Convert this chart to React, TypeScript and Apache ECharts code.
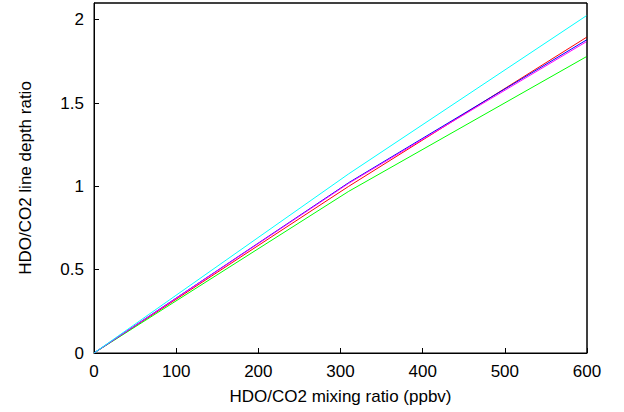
import React, { useEffect, useRef } from "react";
import * as echarts from "echarts";

const xValues = [0, 310, 600];
const redValues = [0, 1.0, 1.896];
const greenValues = [0, 0.97, 1.78];
const blueValues = [0, 1.022, 1.88];
const magentaValues = [0, 1.018, 1.87];
const cyanValues = [0, 1.075, 2.026];

const xMin = 0;
const xMax = 600;
const yMin = 0;
const yMax = 2.1;

const seriesDefs = [
  { name: "red", color: "#ff0000", values: redValues },
  { name: "green", color: "#00ff00", values: greenValues },
  { name: "blue", color: "#0000ff", values: blueValues },
  { name: "magenta", color: "#ff00ff", values: magentaValues },
  { name: "cyan", color: "#00ffff", values: cyanValues },
];

const font = "'Liberation Sans', Arial, sans-serif";
const fs = 17;

export default function App() {
  const ref = useRef<HTMLDivElement>(null);
  useEffect(() => {
    const chart = echarts.init(ref.current!, null, { renderer: "svg" });
    const tick = { show: true, inside: true, length: 5, lineStyle: { color: "#000" } };
    chart.setOption({
      animation: false,
      backgroundColor: "#fff",
      grid: {
        left: 94,
        right: 37,
        top: 3,
        bottom: 59,
        show: true,
        borderColor: "#000",
        borderWidth: 1,
      },
      xAxis: {
        type: "value",
        min: xMin,
        max: xMax,
        interval: 100,
        position: "bottom",
        axisLine: { show: true, onZero: false, lineStyle: { color: "#000", width: 1 } },
        axisTick: tick,
        splitLine: { show: false },
        axisLabel: { color: "#000", fontFamily: font, fontSize: fs, margin: 10 },
        name: "HDO/CO2 mixing ratio (ppbv)",
        nameLocation: "middle",
        nameGap: 35,
        nameTextStyle: { color: "#000", fontFamily: font, fontSize: fs },
      },
      yAxis: {
        type: "value",
        min: yMin,
        max: yMax,
        interval: 0.5,
        position: "left",
        axisLine: { show: true, onZero: false, lineStyle: { color: "#000", width: 1 } },
        axisTick: tick,
        splitLine: { show: false },
        axisLabel: {
          color: "#000",
          fontFamily: font,
          fontSize: fs,
          margin: 10,
          showMaxLabel: false,
        },
        name: "HDO/CO2 line depth ratio",
        nameLocation: "middle",
        nameGap: 60,
        nameTextStyle: { color: "#000", fontFamily: font, fontSize: fs },
      },
      series: [
        ...seriesDefs.map((s) => ({
          name: s.name,
          type: "line",
          data: xValues.map((x, i) => [x, s.values[i]]),
          showSymbol: false,
          symbol: "none",
          lineStyle: { color: s.color, width: 1 },
          itemStyle: { color: s.color },
          silent: true,
        })),
        {
          name: "frame",
          type: "line",
          data: [
            [xMin, yMax],
            [xMax, yMax],
            [xMax, yMin],
          ],
          clip: false,
          showSymbol: false,
          symbol: "none",
          lineStyle: { color: "#000", width: 1 },
          silent: true,
          z: 5,
        },
      ],
    });
    return () => chart.dispose();
  }, []);
  return (
    <div style={{ position: "absolute", left: 0, top: 0 }}>
      <div ref={ref} style={{ width: 624, height: 412 }} />
    </div>
  );
}
